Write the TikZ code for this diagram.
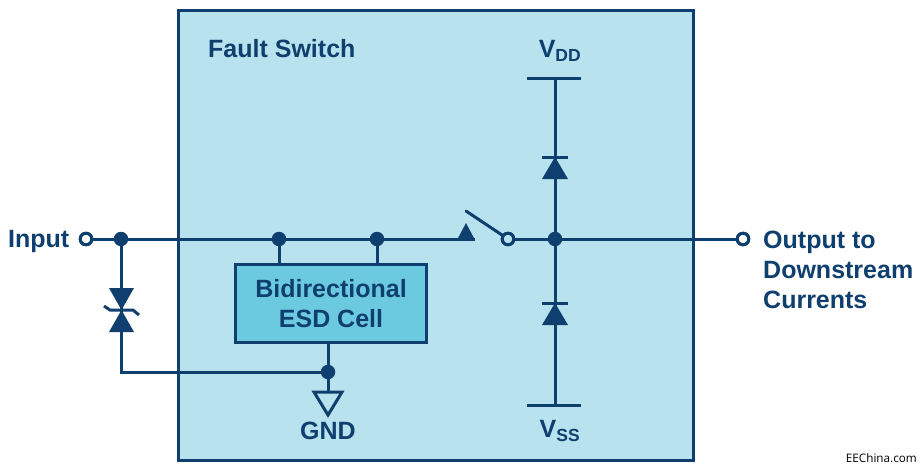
\documentclass[tikz,border=0pt]{standalone}
\usepackage{fontspec}
\setmainfont{Liberation Sans}
\newfontfamily\markfont{Open Sans}
\usetikzlibrary{positioning}
\definecolor{adiblue}{HTML}{0F3F6E}
\definecolor{boxfill}{HTML}{B8E2EE}
\definecolor{cellfill}{HTML}{6CCAE0}
\tikzset{
    wire/.style = {draw=adiblue, line width=3pt},
    dot/.style = {circle, fill=adiblue, draw=none, minimum size=14.5pt, inner sep=0pt},
    opendot/.style = {circle, fill=white, draw=adiblue, line width=3pt, minimum size=11.5pt, inner sep=0pt},
    label/.style = {text=adiblue, font=\fontsize{25}{30}\selectfont\bfseries, inner sep=0pt},
    solid tri/.style = {fill=adiblue, draw=none},
}
% diode pointing up, #1 = bar height, #2 = x
\newcommand\diodeup[2]{
    \fill[solid tri] (#2-13,#1+22) -- (#2+13,#1+22) -- (#2,#1) -- cycle;
    \draw[wire] (#2-13,#1) -- (#2+13,#1);
}
\begin{document}
\begin{tikzpicture}[x=1pt,y=-1pt]
    \useasboundingbox (0,0) rectangle (924,471);
    \node(switchbox)[draw=adiblue, line width=3pt, fill=boxfill, minimum width=515pt, minimum height=450pt, inner sep=0pt] at (436,235) {};
    \node(esdcell)[draw=adiblue, line width=3pt, fill=cellfill, minimum width=191pt, minimum height=78pt, inner sep=0pt, align=center, text=adiblue, font=\fontsize{25}{29.5}\selectfont\bfseries] at (331,303.5) {Bidirectional\\ESD Cell};

    \node(input)[opendot] at (86,239) {};
    \node(tap)[dot] at (121,239) {};
    \node(esda)[dot] at (279,239) {};
    \node(esdb)[dot] at (377,239) {};
    \coordinate(contact) at (475,239);
    \node(pole)[opendot, fill=boxfill] at (508,239) {};
    \node(mid)[dot] at (555,239) {};
    \node(output)[opendot] at (743,239) {};
    \coordinate(vddrail) at (555,78);
    \coordinate(vssrail) at (555,405);
    \node(gndtap)[dot] at (328,372) {};
    \coordinate(gndtop) at (328,392);
    \coordinate(armend) at (466,211);

    \draw[wire] (input) -- (tap) -- (esda) -- (esdb) -- (contact);
    \draw[wire] (pole) -- (mid) -- (output);
    \draw[wire] (vddrail) -- (mid) -- (vssrail);
    \draw[wire] (esda) -- (esda |- esdcell.north);
    \draw[wire] (esdb) -- (esdb |- esdcell.north);
    \draw[wire] (esdcell.south -| gndtap) -- (gndtap) -- (gndtop);
    \draw[wire] (tap) |- (gndtap);
    \draw[wire, line cap=round] (armend) -- (pole);
    \node[opendot] at (input) {};
    \node[opendot, fill=boxfill] at (pole) {};
    \node[opendot] at (output) {};

    % rails and diodes
    \draw[wire] (527,78) -- (581,78);
    \draw[wire] (527,405) -- (581,405);
    \diodeup{157}{555}
    \diodeup{303}{555}
    \fill[solid tri] (457,240) -- (475,240) -- (466,223) -- cycle;

    % tvs
    \fill[solid tri] (109,288) -- (134,288) -- (121.5,310) -- cycle;
    \fill[solid tri] (109,332) -- (134,332) -- (121.5,310) -- cycle;
    \draw[wire] (104,306) -- (110,310) -- (133,310) -- (139,315);

    % gnd
    \draw[draw=adiblue, line width=3pt, line join=miter] (314,392) -- (342,392) -- (328,415) -- cycle;

    \node[label, anchor=west] at (8,241) {Input};
    \node[label, anchor=west] at (208,49) {Fault Switch};
    \node[label, anchor=base west, align=left] at (763,308) {Output to\\Downstream\\Currents};
    \node[label] at (328,431) {GND};
    \node[label] at (560,51) {V\textsubscript{DD}};
    \node[label] at (560,431) {V\textsubscript{SS}};
    \node[anchor=east, inner sep=0pt, font=\fontsize{11.7}{14}\selectfont\markfont] at (917,458) {EEChina.com};
\end{tikzpicture}
\end{document}
